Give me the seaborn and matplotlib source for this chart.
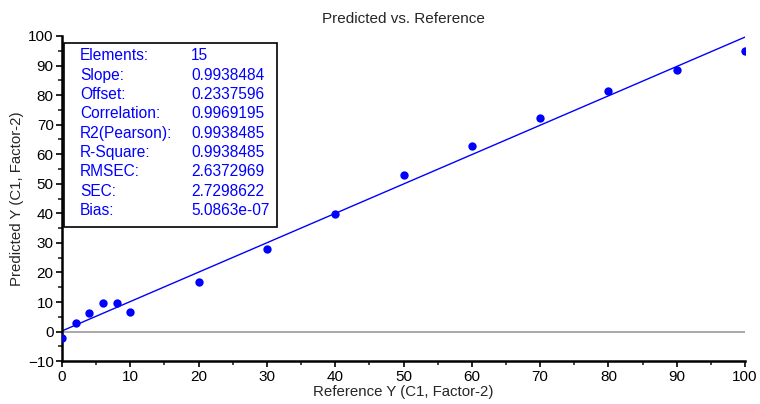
import matplotlib
matplotlib.use("Agg")
import matplotlib.pyplot as plt
import numpy as np
import pandas as pd
import seaborn as sns

sns.set_style("ticks")
plt.rcParams['font.family'] = ['Liberation Sans', 'DejaVu Sans']

# data
reference = [0, 2, 4, 6, 8, 10, 20, 30, 40, 50, 60, 70, 80, 90, 100]
predicted = [-2.2, 2.9, 6.4, 9.7, 9.7, 6.6, 16.8, 27.9, 39.8, 52.9, 62.9, 72.4, 81.3, 88.6, 94.9]
slope = 0.9938484
offset = 0.2337596

stat_names = ["Elements:", "Slope:", "Offset:", "Correlation:", "R2(Pearson):",
              "R-Square:", "RMSEC:", "SEC:", "Bias:"]
stat_values = ["15", "0.9938484", "0.2337596", "0.9969195", "0.9938485",
               "0.9938485", "2.6372969", "2.7298622", "5.0863e-07"]

df = pd.DataFrame({"Reference": reference, "Predicted": predicted})
blue = "#0000ff"

fig = plt.figure(figsize=(7.6, 4.04), dpi=100)
ax = fig.add_axes([0.0816, 0.106, 0.8987, 0.805])

ax.axhline(0, color="#999999", lw=1.2, zorder=1)
line_x = np.array([0, 100])
ax.plot(line_x, slope * line_x + offset, color=blue, lw=1, zorder=2)
sns.scatterplot(data=df, x="Reference", y="Predicted", ax=ax, color=blue,
                s=36, edgecolor=blue, linewidth=0, zorder=3)

ax.set_xlim(0, 100)
ax.set_ylim(-10, 100)
ax.set_xticks(range(0, 101, 10))
ax.set_yticks(range(-10, 101, 10))
ax.set_xticks(range(5, 100, 10), minor=True)
ax.set_yticks(range(-5, 100, 10), minor=True)
ax.tick_params(which="major", length=4, width=1.2, labelsize=11, colors="black", pad=2)
ax.tick_params(which="minor", length=3, width=1.2)
for s in ["top", "right"]:
    ax.spines[s].set_visible(False)
for s in ["left", "bottom"]:
    ax.spines[s].set_linewidth(1.8)
    ax.spines[s].set_color("black")

ax.set_xlabel("Reference Y (C1, Factor-2)", fontsize=10.8, labelpad=1)
ax.set_ylabel("Predicted Y (C1, Factor-2)", fontsize=10.8, labelpad=3)
ax.set_title("Predicted vs. Reference", fontsize=11, pad=9)

# stats box
box = plt.Rectangle((64 / 760, 1 - 227 / 404), (277 - 64) / 760, (227 - 43) / 404,
                    transform=fig.transFigure, facecolor="white", edgecolor="black",
                    lw=1.2, zorder=5)
fig.patches.append(box)
for i, (n, v) in enumerate(zip(stat_names, stat_values)):
    yy = 1 - (56 + i * 19.3) / 404
    fig.text(80 / 760, yy, n, color=blue, fontsize=11.2, va="center", zorder=6)
    fig.text(191 / 760, yy, v, color=blue, fontsize=11.2, va="center", zorder=6)

fig.savefig("out.png", dpi=100)
